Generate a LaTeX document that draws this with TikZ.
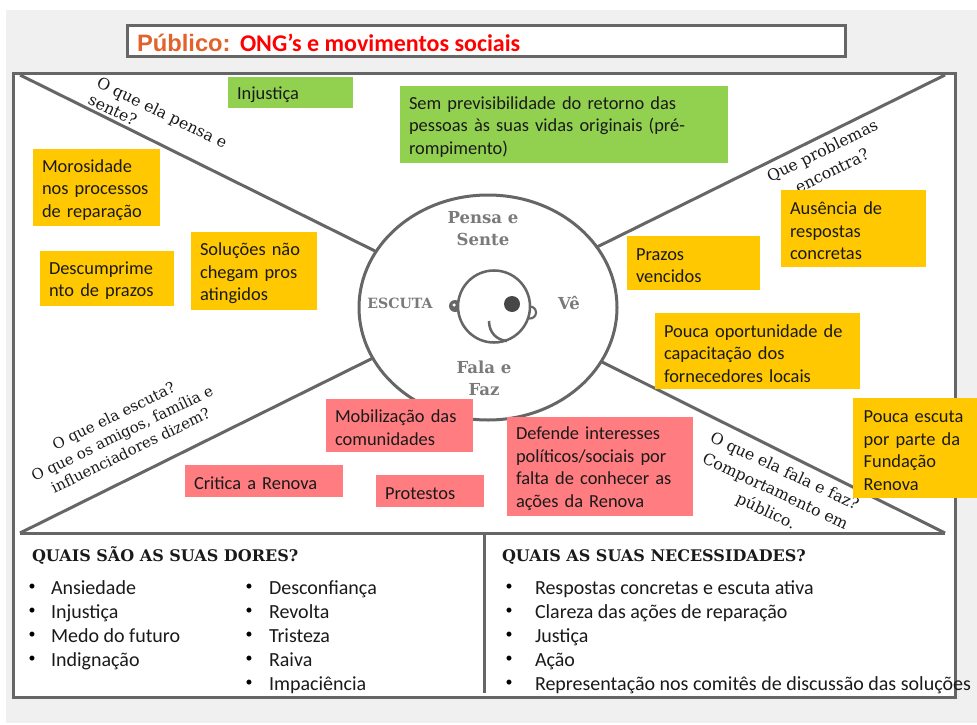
\documentclass[tikz,border=0pt]{standalone}
\usepackage{fontspec}
\usetikzlibrary{shapes.geometric}
\setmainfont{Carlito}
\newfontfamily\serifface{DejaVu Serif}
\newfontfamily\arialface{Liberation Sans}
\definecolor{pagegrey}{HTML}{F0F0F0}
\definecolor{framegrey}{HTML}{666666}
\definecolor{stickyyellow}{HTML}{FFC800}
\definecolor{stickygreen}{HTML}{92D050}
\definecolor{stickypink}{HTML}{FF7C80}
\definecolor{inktext}{HTML}{1A1A1A}
\definecolor{hubgrey}{HTML}{7A7A7A}
\definecolor{orangetitle}{HTML}{E2622B}
\tikzset{
  x=0.75pt,y=-0.75pt,
  every node/.style={outer sep=0pt},
  frameline/.style={draw=framegrey,line width=2.25pt},
  thinface/.style={draw=framegrey,line width=1.9pt},
  sticky/.style n args={3}{anchor=north west,fill=#3,text=inktext,minimum width=#1*0.75pt,minimum height=#2*0.75pt,
     inner xsep=6.75pt,inner ysep=0pt,text width=#1*0.75pt-13.5pt,align=left,
     font=\fontsize{13.8pt}{16.9pt}\selectfont,execute at begin node={\rule{0pt}{13pt}}},
  slanted/.style={font=\serifface\fontsize{11.8pt}{16.5pt}\selectfont,text=inktext,inner sep=0pt},
  hublabel/.style={font=\serifface\bfseries\fontsize{12.4pt}{16.5pt}\selectfont,text=hubgrey,inner sep=0pt,align=center},
  heading/.style={font=\serifface\bfseries\fontsize{12pt}{13pt}\selectfont,text=inktext,anchor=base west,inner sep=0pt},
  listitem/.style={font=\fontsize{15pt}{16pt}\selectfont,text=inktext,anchor=base west,inner sep=0pt},
  bulletmark/.style={font=\fontsize{10.5pt}{12pt}\selectfont,text=black,anchor=center,inner sep=0pt},
}
\begin{document}
\begin{tikzpicture}
\path[use as bounding box] (0,0) rectangle (977,724);
\fill[pagegrey] (6,10) rectangle (977,723);

% title
\node[draw=framegrey,line width=2.25pt,fill=white,anchor=north west,minimum width=718*0.75pt,minimum height=31*0.75pt,inner sep=0pt] (titlebox) at (127,26) {};
\node[anchor=base west,inner sep=0pt,text=orangetitle,font=\arialface\bfseries\fontsize{17.8pt}{20pt}\selectfont] (titleA) at (137,51) {Público:};
\node[anchor=base west,inner sep=0pt,text=red,font=\bfseries\fontsize{18pt}{20pt}\selectfont] (titleB) at (240,51) {ONG’s e movimentos sociais};

% frame
\node[frameline,fill=white,anchor=north west,minimum width=942*0.75pt,minimum height=623*0.75pt,inner sep=0pt] (frame) at (13,74) {};
\coordinate (midC) at (484,533);
\coordinate (botC) at (484,693);
\coordinate (cornerTL) at (20,75);
\coordinate (cornerTR) at (945,75);
\coordinate (cornerBL) at (20,533);
\coordinate (cornerBR) at (945,533);
\coordinate (hubTL) at (375,251);
\coordinate (hubTR) at (597,247);
\coordinate (hubBL) at (373,358);
\coordinate (hubBR) at (602,362);
\draw[frameline] (cornerBL) -- (cornerBR);
\draw[frameline] (midC) -- (botC);
\draw[frameline] (cornerTL) -- (hubTL);
\draw[frameline] (cornerTR) -- (hubTR);
\draw[frameline] (cornerBL) -- (hubBL);
\draw[frameline] (cornerBR) -- (hubBR);

% hub
\node[ellipse,frameline,fill=white,minimum width=258*0.75pt,minimum height=225*0.75pt,inner sep=0pt] (hub) at (488,307.5) {};
\node[hublabel] (lblpensa) at (483,229) {Pensa e\\Sente};
\node[hublabel,font=\serifface\bfseries\fontsize{10.6pt}{12pt}\selectfont] (lblescuta) at (400,303) {ESCUTA};
\node[hublabel] (lblve) at (569,303) {Vê};
\node[hublabel] (lblfala) at (484,378) {Fala e\\Faz};

% face
\node[circle,fill=framegrey,minimum size=12*0.75pt,inner sep=0pt] (earL) at (455,306) {};
\node[circle,fill=white,minimum size=3.5*0.75pt,inner sep=0pt] (earhole) at (454,305) {};
\node[circle,draw=framegrey,line width=1.6pt,fill=white,minimum size=12*0.75pt,inner sep=0pt] (earR) at (530,312.5) {};
\node[circle,thinface,fill=white,minimum size=72*0.75pt,inner sep=0pt] (head) at (494,306.5) {};
\node[circle,fill=framegrey!70!black,minimum size=16*0.75pt,inner sep=0pt] (eye) at (512,304) {};
\coordinate (smileA) at (489,321);
\coordinate (smileB) at (507,341);
\draw[thinface] (smileA) .. controls (489,333) and (497,340) .. (smileB);

% slanted labels
\node[slanted,rotate=-26,align=left,font=\serifface\fontsize{11.8pt}{14.5pt}\selectfont] (qpensa) at (158,121) {O que ela pensa e\\sente?};
\node[slanted,rotate=26,align=center] (qproblemas) at (827,160.5) {Que problemas\\encontra?};
\node[slanted,rotate=26,align=center,font=\serifface\fontsize{11.2pt}{14.5pt}\selectfont] (qescuta) at (122,433) {O que ela escuta?\\O que os amigos, família e\\influenciadores dizem?};
\node[slanted,rotate=-25,align=center] (qfala) at (775,492) {O que ela fala e faz?\\Comportamento em\\público.};

% stickies
\node[sticky={125}{31}{stickygreen}] (s1) at (228,77) {Injustiça};
\node[sticky={328}{77}{stickygreen}] (s2) at (400,86) {Sem previsibilidade do retorno das\\pessoas às suas vidas originais (pré-\\rompimento)};
\node[sticky={127}{77}{stickyyellow}] (s3) at (33,149) {Morosidade\\nos processos\\de reparação};
\node[sticky={134}{55}{stickyyellow}] (s4) at (40,251) {Descumprime\\nto de prazos};
\node[sticky={126}{78}{stickyyellow}] (s5) at (191,232) {Soluções não\\chegam pros\\atingidos};
\node[sticky={145}{77}{stickyyellow}] (s6) at (781,190) {Ausência de\\respostas\\concretas};
\node[sticky={133}{54}{stickyyellow}] (s7) at (627,236) {Prazos\\vencidos};
\node[sticky={205}{76}{stickyyellow}] (s8) at (655,313) {Pouca oportunidade de\\capacitação dos\\fornecedores locais};
\node[sticky={124}{100}{stickyyellow},inner xsep=8pt,text width=124*0.75pt-16pt] (s9) at (853,398) {Pouca escuta\\por parte da\\Fundação\\Renova};
\node[sticky={147}{53}{stickypink}] (s10) at (326,399) {Mobilização das\\comunidades};
\node[sticky={158}{32}{stickypink}] (s11) at (185,465) {Critica a Renova};
\node[sticky={108}{32}{stickypink}] (s12) at (376,475) {Protestos};
\node[sticky={186}{99}{stickypink}] (s13) at (507,417) {Defende interesses\\políticos/sociais por\\falta de conhecer as\\ações da Renova};

% bottom left
\node[heading] (h1) at (32,561) {QUAIS SÃO AS SUAS DORES?};
\node[bulletmark] (b1) at (32,587) {•};
\node[listitem] (t1) at (51,594) {Ansiedade};
\node[bulletmark] (b2) at (32,611) {•};
\node[listitem] (t2) at (51,618) {Injustiça};
\node[bulletmark] (b3) at (32,635) {•};
\node[listitem] (t3) at (51,642) {Medo do futuro};
\node[bulletmark] (b4) at (32,659) {•};
\node[listitem] (t4) at (51,666) {Indignação};
\node[bulletmark] (b5) at (249,587) {•};
\node[listitem] (t5) at (269,594) {Desconfiança};
\node[bulletmark] (b6) at (249,611) {•};
\node[listitem] (t6) at (269,618) {Revolta};
\node[bulletmark] (b7) at (249,635) {•};
\node[listitem] (t7) at (269,642) {Tristeza};
\node[bulletmark] (b8) at (249,659) {•};
\node[listitem] (t8) at (269,666) {Raiva};
\node[bulletmark] (b9) at (249,683) {•};
\node[listitem] (t9) at (269,690) {Impaciência};

% bottom right
\node[heading] (h2) at (502,561) {QUAIS AS SUAS NECESSIDADES?};
\node[bulletmark] (c1) at (509,587) {•};
\node[listitem] (u1) at (535,594) {Respostas concretas e escuta ativa};
\node[bulletmark] (c2) at (509,611) {•};
\node[listitem] (u2) at (535,618) {Clareza das ações de reparação};
\node[bulletmark] (c3) at (509,635) {•};
\node[listitem] (u3) at (535,642) {Justiça};
\node[bulletmark] (c4) at (509,659) {•};
\node[listitem] (u4) at (535,666) {Ação};
\node[bulletmark] (c5) at (509,683) {•};
\node[listitem] (u5) at (535,690) {Representação nos comitês de discussão das soluções};
\end{tikzpicture}
\end{document}
